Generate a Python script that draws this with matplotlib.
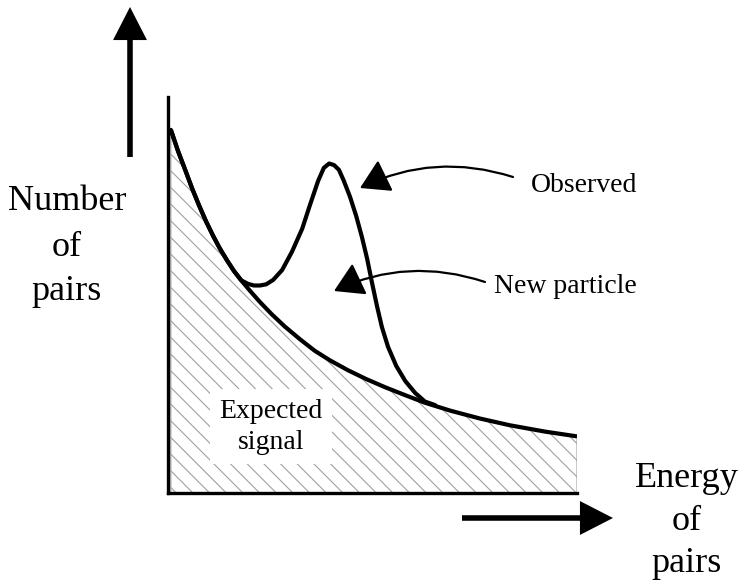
import matplotlib.pyplot as plt

plt.rcParams['font.family'] = ['Liberation Serif', 'DejaVu Serif']
plt.rcParams['hatch.linewidth'] = 0.8

# expected (background) curve, energy vs number of pairs (arbitrary units)
bg_energy = [0.07, 0.24, 0.42, 0.59, 0.76, 0.93, 1.10, 1.27, 1.44, 1.61, 1.79,
             2.01, 2.25, 2.54, 2.86, 3.23, 3.59, 3.96, 4.40, 4.84, 5.31, 5.80,
             6.28, 6.90, 7.63, 8.36, 9.22, 10.0]
bg_count = [9.17, 8.65, 8.16, 7.69, 7.26, 6.86, 6.50, 6.17, 5.88, 5.61, 5.37,
            5.10, 4.82, 4.51, 4.20, 3.88, 3.59, 3.35, 3.10, 2.88, 2.67, 2.47,
            2.28, 2.08, 1.88, 1.71, 1.55, 1.43]

# observed curve with the bump from the new particle
obs_energy = [0.07, 0.24, 0.42, 0.59, 0.76, 0.93, 1.10, 1.27, 1.44, 1.61, 1.79,
              1.96, 2.10, 2.25, 2.40, 2.57, 2.79, 3.03, 3.28, 3.47, 3.67, 3.81,
              3.94, 4.06, 4.18, 4.30, 4.45, 4.60, 4.74, 4.87, 4.99, 5.11, 5.23,
              5.38, 5.58, 5.80, 6.04, 6.28, 6.53]
obs_count = [9.17, 8.65, 8.16, 7.69, 7.26, 6.86, 6.50, 6.17, 5.88, 5.61, 5.37,
             5.28, 5.24, 5.24, 5.27, 5.38, 5.63, 6.09, 6.67, 7.27, 7.88, 8.21,
             8.32, 8.28, 8.16, 7.88, 7.48, 7.00, 6.47, 5.91, 5.30, 4.72, 4.19,
             3.69, 3.21, 2.83, 2.53, 2.31, 2.22]

W, H = 748, 586

fig = plt.figure(figsize=(W / 100, H / 100), dpi=100)
ax = fig.add_axes([168 / W, (H - 493) / H, 409 / W, 396 / H])

ax.fill_between(bg_energy, 0, bg_count, facecolor='white', edgecolor='#a0a0a0',
                hatch='\\\\', linewidth=0.8, zorder=1)
ax.plot(bg_energy, bg_count, color='black', lw=3, solid_capstyle='butt',
        solid_joinstyle='round', zorder=3)
ax.plot(obs_energy, obs_count, color='black', lw=3, solid_capstyle='round',
        solid_joinstyle='round', zorder=3)

ax.set_xlim(0, 10)
ax.set_ylim(0, 10)
ax.set_xticks([])
ax.set_yticks([])
for s in ['top', 'right']:
    ax.spines[s].set_visible(False)
for s in ['left', 'bottom']:
    ax.spines[s].set_linewidth(2.4)
    ax.spines[s].set_zorder(4)

ax.text(2.52, 1.67, 'Expected\nsignal', ha='center', va='center', fontsize=20,
        linespacing=1.3, zorder=5,
        bbox=dict(facecolor='white', edgecolor='none', pad=7))


def fp(x, y):
    return (x, H - y)


# axis labels
for txt, y in [('Number', 210), ('of', 256), ('pairs', 300)]:
    fig.text(67 / W, 1 - y / H, txt, ha='center', va='baseline', fontsize=26)
for txt, y in [('Energy', 487), ('of', 530), ('pairs', 572)]:
    fig.text(687 / W, 1 - y / H, txt, ha='center', va='baseline', fontsize=26)

fig.text(584 / W, 1 - 192 / H, 'Observed', ha='center', va='baseline', fontsize=20)
fig.text(565 / W, 1 - 293 / H, 'New particle', ha='center', va='baseline', fontsize=20)

# big direction arrows
big = dict(arrowstyle='simple,head_length=1.19,head_width=1.22,tail_width=0.2',
           fc='black', ec='none', lw=0, mutation_scale=20, shrinkA=0, shrinkB=0)
ax.annotate('', xy=fp(130, 7), xytext=fp(130, 157), xycoords='figure pixels',
            textcoords='figure pixels', arrowprops=big, annotation_clip=False)
ax.annotate('', xy=fp(613, 518), xytext=fp(462, 518), xycoords='figure pixels',
            textcoords='figure pixels', arrowprops=big, annotation_clip=False)

# pointer arrows
small = dict(arrowstyle='-|>,head_length=1.0,head_width=0.6', color='black',
             lw=1.6, mutation_scale=18, shrinkA=0, shrinkB=0,
             connectionstyle='arc3,rad=0.2')
ax.annotate('', xy=fp(360, 188), xytext=fp(513, 177), xycoords='figure pixels',
            textcoords='figure pixels', arrowprops=small, annotation_clip=False)
ax.annotate('', xy=fp(334, 291), xytext=fp(485, 282), xycoords='figure pixels',
            textcoords='figure pixels', arrowprops=small, annotation_clip=False)

plt.savefig('out.png', dpi=100)
